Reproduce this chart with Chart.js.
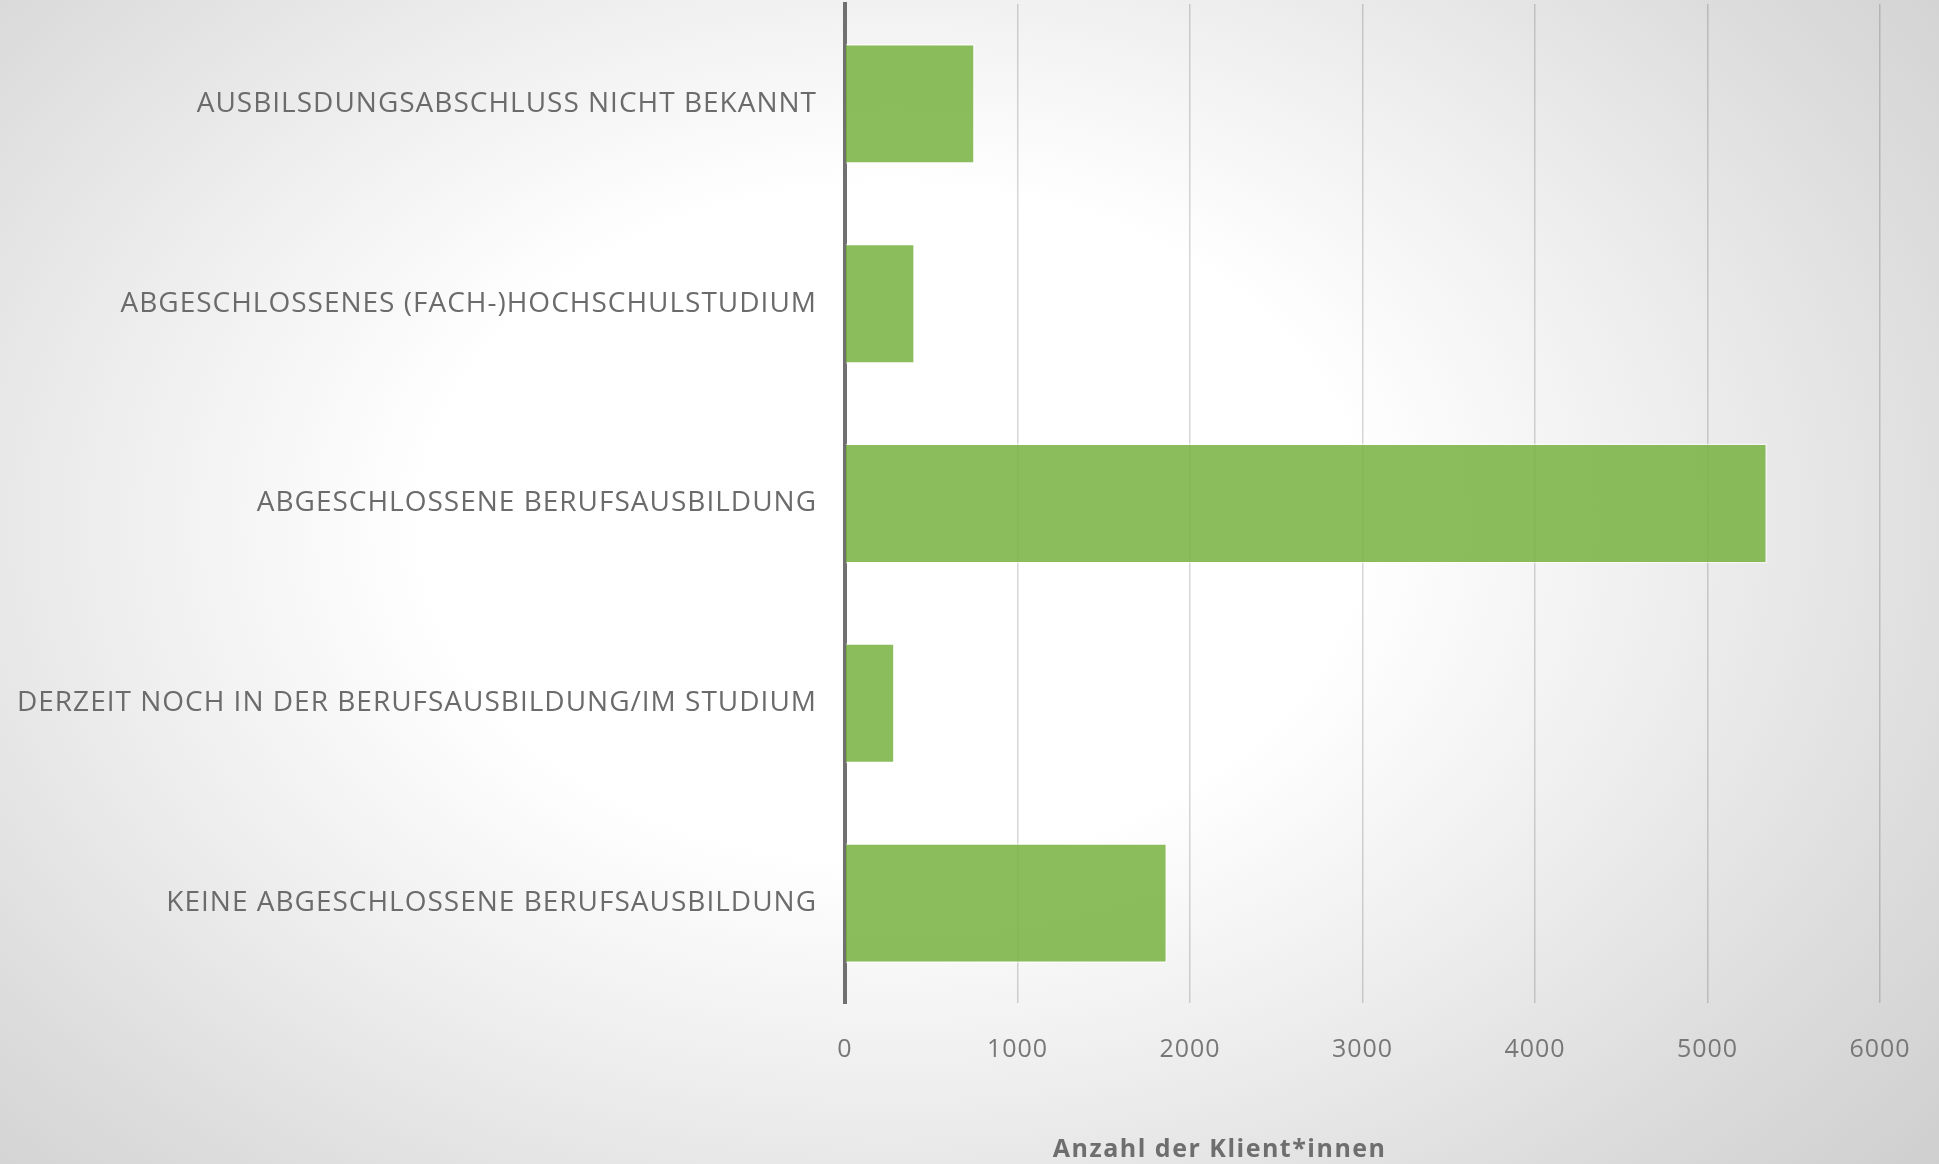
<!DOCTYPE html>
<html>
<head>
<meta charset="utf-8">
<script src="https://cdn.jsdelivr.net/npm/chart.js@4"></script>
<style>
  html, body { margin: 0; padding: 0; overflow: hidden; }
  body {
    width: 1939px; height: 1164px;
    background: radial-gradient(ellipse 60% 72% at 46% 45%, #ffffff 40%, #efefef 66%, #dcdcdc 95%, #cbcbcb 125%);
  }
  #wrap { width: 1939px; height: 1164px; position: relative; }
</style>
</head>
<body>
<div id="wrap"><canvas id="myChart"></canvas></div>
<script>
var categories = [
    "AUSBILSDUNGSABSCHLUSS NICHT BEKANNT",
    "ABGESCHLOSSENES (FACH-)HOCHSCHULSTUDIUM",
    "ABGESCHLOSSENE BERUFSAUSBILDUNG",
    "DERZEIT NOCH IN DER BERUFSAUSBILDUNG/IM STUDIUM",
    "KEINE ABGESCHLOSSENE BERUFSAUSBILDUNG"
];
var clients = [752, 405, 5345, 288, 1867];
var xTicks = [0, 1000, 2000, 3000, 4000, 5000, 6000];
var xTitle = "Anzahl der Klient*innen";

var data = {
    labels: categories,
    datasets: [
        {
            data: clients,
            backgroundColor: "rgba(120,178,65,0.85)",
            borderColor: "rgba(255,255,255,0.55)",
            borderWidth: 1.5,
            barPercentage: 0.6,
            categoryPercentage: 1.0
        }]
};

// wider text like the original font, plus the off-centre axis title
var textPlugin = {
  id: 'textStuff',
  beforeDraw: function(chart) {
    chart.ctx.letterSpacing = "1px";
  },
  afterDraw: function(chart) {
    var ctx = chart.ctx;
    var area = chart.chartArea;
    ctx.save();
    ctx.letterSpacing = "1.5px";
    ctx.font = "bold 25px 'Open Sans'";
    ctx.fillStyle = "#6e6e6e";
    ctx.textAlign = "center";
    ctx.textBaseline = "alphabetic";
    ctx.fillText(xTitle, area.left + (area.right - area.left) * 0.362, 1157);
    ctx.restore();
    ctx.letterSpacing = "0px";
  }
};

var options = {
  indexAxis: 'y',
  responsive: true,
  maintainAspectRatio: false,
  animation: false,
  layout: {
    padding: { top: 4, right: 59, left: 0, bottom: 0 }
  },
  plugins: {
    legend: { display: false },
    tooltip: { enabled: false }
  },
  scales: {
    x: {
      min: 0,
      max: 6000,
      afterBuildTicks: function(scale) {
        scale.ticks = xTicks.map(function(v) { return { value: v }; });
      },
      afterFit: function(scale) {
        scale.height = 161;
        scale.paddingLeft = 0;
        scale.paddingRight = 0;
      },
      grid: {
        color: "rgba(0,0,0,0.16)",
        lineWidth: 1.5,
        drawTicks: false
      },
      border: { display: false },
      ticks: {
        padding: 32,
        color: "#777777",
        font: { family: "'Open Sans'", size: 25 },
        callback: function(v) { return String(v); }
      }
    },
    y: {
      afterFit: function(scale) {
        scale.width = 845;
        scale.paddingTop = 0;
        scale.paddingBottom = 0;
      },
      grid: { display: false, drawTicks: false },
      border: { display: true, color: "#707070", width: 4 },
      ticks: {
        padding: 28,
        color: "#6b6b6b",
        font: { family: "'Open Sans'", size: 28 }
      }
    }
  }
};

var ctx = document.getElementById("myChart");
var myChart = new Chart(ctx, {
    type: 'bar',
    data: data,
    options: options,
    plugins: [textPlugin]
});
</script>
</body>
</html>
